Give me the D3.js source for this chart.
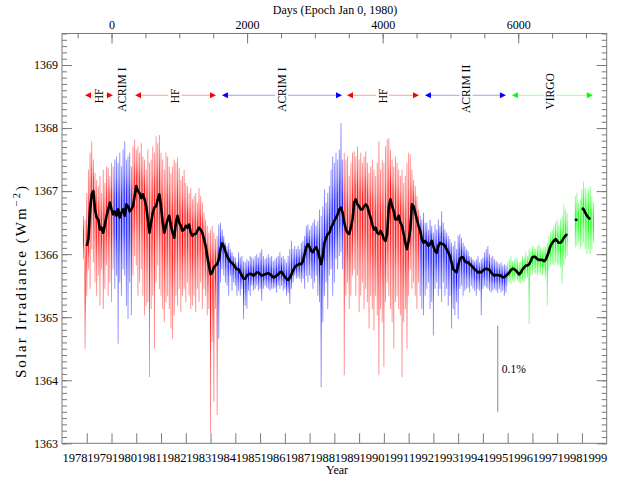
<!DOCTYPE html>
<html><head><meta charset="utf-8">
<script src="https://cdn.jsdelivr.net/npm/d3@7"></script>
<style>
body{margin:0;background:#fff}
svg{display:block}
text{font-family:"Liberation Serif","Times New Roman",serif;fill:#000}
</style>
</head><body>
<svg id="chart" width="626" height="484"></svg>
<script>
// ---------- DATA ----------
const sampleStep = 1/15;            // years between samples
const meanStart = 1979.0;           // first sample of the running mean
const meanValues = [
1366.13,1366.24,1366.71,1366.95,1367.00,1366.71,1366.58,1366.55,1366.39,1366.42,
1366.34,1366.47,1366.61,1366.71,1366.82,1366.71,1366.63,1366.68,1366.61,1366.71,
1366.58,1366.66,1366.71,1366.61,1366.79,1366.76,1366.68,1366.71,1366.76,1366.92,
1367.08,1367.00,1366.97,1366.89,1366.95,1366.87,1366.76,1366.55,1366.34,1366.50,
1366.66,1366.74,1366.76,1366.87,1366.95,1366.76,1366.50,1366.34,1366.45,1366.55,
1366.61,1366.45,1366.34,1366.26,1366.50,1366.61,1366.50,1366.45,1366.37,1366.39,
1366.45,1366.42,1366.47,1366.34,1366.29,1366.32,1366.32,1366.37,1366.42,1366.39,
1366.34,1366.24,1366.13,1365.97,1365.82,1365.68,1365.71,1365.79,1365.82,1365.84,
1365.92,1366.08,1366.17,1366.13,1366.04,1365.97,1365.92,1365.88,1365.86,1365.83,
1365.79,1365.76,1365.76,1365.71,1365.66,1365.61,1365.61,1365.66,1365.68,1365.69,
1365.68,1365.66,1365.68,1365.71,1365.71,1365.68,1365.66,1365.67,1365.68,1365.69,
1365.70,1365.68,1365.66,1365.63,1365.64,1365.66,1365.68,1365.71,1365.72,1365.68,
1365.64,1365.61,1365.59,1365.63,1365.68,1365.74,1365.79,1365.82,1365.83,1365.85,
1365.84,1365.89,1366.00,1366.11,1366.16,1366.11,1366.05,1366.03,1366.08,1366.11,
1366.05,1365.95,1365.84,1365.97,1366.18,1366.26,1366.32,1366.34,1366.42,1366.47,
1366.53,1366.58,1366.63,1366.71,1366.74,1366.66,1366.50,1366.39,1366.34,1366.32,
1366.42,1366.55,1366.82,1366.87,1366.79,1366.76,1366.71,1366.71,1366.76,1366.79,
1366.76,1366.66,1366.58,1366.47,1366.39,1366.42,1366.34,1366.32,1366.37,1366.32,
1366.24,1366.21,1366.32,1366.76,1366.87,1366.76,1366.68,1366.55,1366.55,1366.61,
1366.50,1366.45,1366.32,1366.18,1366.08,1366.21,1366.39,1366.79,1366.76,1366.66,
1366.55,1366.45,1366.37,1366.24,1366.18,1366.21,1366.18,1366.13,1366.16,1366.21,
1366.12,1366.05,1366.02,1366.13,1366.18,1366.16,1366.16,1366.13,1366.08,1366.03,
1365.97,1365.87,1365.76,1365.74,1365.71,1365.82,1365.92,1365.95,1365.95,1365.89,
1365.87,1365.87,1365.84,1365.82,1365.79,1365.76,1365.74,1365.71,1365.72,1365.71,
1365.74,1365.76,1365.77,1365.76,1365.75,1365.71,1365.68,1365.66,1365.67,1365.67,
1365.66,1365.66,1365.63,1365.64,1365.66,1365.68,1365.71,1365.75,1365.77,1365.76,
1365.74,1365.71,1365.68,1365.71,1365.76,1365.79,1365.82,1365.82,1365.84,1365.89,
1365.95,1365.96,1365.95,1365.92,1365.91,1365.91,1365.91,1365.89,1365.91,1365.97,
1366.05,1366.13,1366.18,1366.21,1366.24,1366.21,1366.18,1366.18,1366.21,1366.26,
1366.29,1366.32,null,null,null,null,1366.53,1366.56,null,null,
1366.73,1366.71,1366.66,1366.61,1366.58,1366.55
];
const noiseStart = 1978 + 13/15;    // first sample of the daily-data envelope
const noiseHigh = [
1366.61,1366.55,1366.97,1367.34,1367.61,1367.79,1367.50,1367.29,1367.18,1367.08,
1367.24,1366.97,1367.34,1367.13,1367.39,1367.37,1367.24,1367.45,1367.39,1367.50,
1367.55,1367.45,1367.61,1367.39,1367.66,1367.79,1367.50,1367.55,1367.61,1367.39,
1367.71,1367.82,1367.66,1367.71,1367.61,1367.76,1367.55,1367.50,1367.34,1367.66,
1367.45,1367.50,1367.71,1367.61,1367.87,1367.76,1367.89,1367.61,1367.50,1367.34,
1367.61,1367.55,1367.39,1367.29,1367.39,1367.50,1367.45,1367.53,1367.37,1367.18,
1367.24,1367.34,1367.13,1367.08,1366.97,1367.05,1366.87,1366.92,1366.97,1366.82,
1367.05,1366.92,1366.82,1366.66,1366.55,1366.45,1366.34,1366.39,1366.45,1366.34,
1366.24,1366.29,1366.47,1366.50,1366.39,1366.29,1366.18,1366.13,1366.18,1366.08,
1366.03,1365.97,1365.95,1365.87,1366.03,1365.95,1365.97,1365.89,1365.87,1365.92,
1365.89,1365.97,1365.95,1365.92,1365.97,1366.00,1365.95,1366.03,1366.08,1365.97,
1365.92,1365.95,1366.00,1365.95,1365.97,1365.89,1365.92,1365.95,1365.97,1366.03,
1365.95,1365.97,1365.92,1365.87,1365.97,1366.08,1366.21,1366.08,1366.13,1366.08,
1366.13,1366.08,1366.18,1366.21,1366.29,1366.45,1366.47,1366.39,1366.45,1366.50,
1366.55,1366.45,1366.53,1366.71,1366.61,1366.76,1367.03,1366.82,1366.97,1367.08,
1367.34,1367.55,1367.45,1367.61,1367.50,1367.66,1368.08,1367.50,1367.61,1367.50,
1367.55,1367.24,1367.45,1367.61,1367.63,1367.55,1367.71,1367.50,1367.61,1367.45,
1367.55,1367.63,1367.45,1367.29,1367.39,1367.50,1367.34,1367.24,1367.45,1367.79,
1367.34,1367.50,1367.45,1367.71,1367.82,1367.84,1367.66,1367.50,1367.39,1367.55,
1367.45,1367.34,1367.24,1367.34,1367.13,1367.24,1367.45,1367.61,1367.58,1367.34,
1367.18,1367.08,1366.92,1366.71,1366.61,1366.55,1366.66,1366.50,1366.50,1366.39,
1366.55,1366.45,1366.34,1366.47,1366.39,1366.55,1366.45,1366.68,1366.50,1366.39,
1366.34,1366.29,1366.24,1366.18,1366.13,1366.21,1366.08,1366.29,1366.32,1366.26,
1366.18,1366.13,1366.08,1366.05,1365.97,1365.95,1365.92,1365.89,1365.92,1365.97,
1365.87,1365.92,1365.95,1366.03,1366.08,1366.13,1366.00,1365.95,1365.97,1365.92,
1365.89,1365.87,1365.84,1365.87,1365.82,1365.84,1365.82,1365.87,1365.92,1365.97,
1365.89,1365.92,1365.95,1365.92,1365.87,1365.89,1365.97,1365.95,1366.03,1365.97,
1366.08,1366.05,1366.13,1366.11,1366.08,1366.13,1366.16,1366.11,1366.08,1366.13,
1366.11,1366.18,1366.29,1366.34,1366.39,1366.45,1366.50,1366.55,1366.47,1366.55,
1366.61,1366.79,1366.71,1366.66,null,null,null,null,1366.92,1366.97,
1366.82,1366.87,1367.03,1367.16,1367.05,1366.97,1367.03,1367.08,1366.92,1366.82
];
const noiseLow = [
1365.92,1364.50,1365.34,1365.76,1365.45,1366.08,1365.87,1365.55,1365.34,1365.66,
1365.18,1365.76,1365.13,1365.45,1365.82,1365.34,1365.55,1365.24,1365.76,1365.45,
1365.66,1364.58,1365.55,1365.34,1365.76,1365.66,1365.18,1364.97,1365.55,1365.03,
1365.66,1365.97,1365.82,1365.34,1365.55,1365.76,1365.34,1365.03,1365.18,1365.24,
1364.05,1365.13,1365.34,1364.50,1365.55,1365.82,1365.45,1365.34,1365.13,1364.92,
1365.24,1365.34,1365.13,1364.82,1364.66,1365.03,1365.34,1365.18,1365.45,1365.08,
1365.34,1365.45,1365.24,1365.55,1365.34,1365.13,1365.18,1365.34,1365.08,1365.45,
1365.24,1365.55,1365.13,1365.45,1365.34,1365.03,1365.13,1363.16,1364.61,1363.66,
1365.13,1363.45,1364.66,1365.55,1365.76,1365.66,1365.55,1365.50,1365.34,1365.66,
1365.42,1365.55,1365.50,1365.34,1365.42,1365.34,1365.45,1364.97,1365.18,1365.13,
1365.42,1365.34,1365.50,1365.42,1365.45,1365.50,1365.42,1365.45,1365.26,1365.45,
1365.50,1365.47,1365.45,1365.42,1365.45,1365.45,1365.47,1365.39,1365.50,1365.45,
1365.50,1365.42,1365.45,1365.34,1365.39,1365.21,1365.45,1365.55,1365.66,1365.61,
1365.63,1365.61,1365.55,1365.61,1365.45,1365.66,1365.55,1365.66,1365.61,1365.45,
1365.55,1365.66,1365.34,1365.24,1363.89,1364.92,1365.34,1365.55,1365.13,1365.66,
1365.76,1365.34,1365.55,1365.92,1365.76,1365.97,1366.03,1365.76,1364.08,1365.34,
1365.55,1365.13,1365.34,1365.66,1365.76,1365.34,1365.66,1365.08,1365.34,1365.55,
1365.13,1365.45,1365.24,1364.82,1365.34,1365.13,1364.79,1365.34,1365.03,1364.08,
1365.13,1364.92,1364.21,1365.24,1365.55,1365.34,1365.13,1364.92,1364.50,1365.24,
1365.34,1365.13,1365.03,1364.05,1364.92,1365.13,1364.50,1365.34,1365.76,1365.45,
1365.55,1365.34,1365.13,1365.55,1365.34,1365.13,1365.03,1365.34,1365.45,1365.55,
1365.13,1365.24,1364.71,1365.45,1365.55,1365.34,1365.45,1365.24,1365.55,1365.34,
1365.45,1365.18,1365.34,1364.82,1365.13,1365.03,1365.24,1364.97,1365.45,1365.50,
1365.34,1365.42,1365.45,1365.47,1365.39,1365.50,1365.45,1365.42,1365.34,1365.45,
1365.42,1365.03,1365.45,1365.50,1365.47,1365.45,1365.42,1365.39,1365.42,1365.45,
1365.42,1365.39,1365.45,1365.39,1365.42,1365.34,1365.39,1365.50,1365.55,1365.53,
1365.58,1365.55,1365.61,1365.58,1365.55,1365.53,1365.58,1365.55,1365.61,1365.63,
1364.89,1365.66,1365.68,1365.71,1365.68,1365.66,1365.71,1365.68,1365.66,1365.68,
1365.63,1365.18,1365.76,1365.82,1365.84,1365.82,1365.87,1365.82,1365.84,1365.79,
1365.53,1365.82,1365.92,1365.97,null,null,null,null,1366.11,1366.13,
1366.18,1366.08,1366.13,1366.18,1366.08,1366.00,1366.08,1366.00,1366.08,1366.18
];
// which instrument supplied each stretch of the record
const segInstrument = ["HF","ACRIM I","HF","ACRIM I","HF","ACRIM II","VIRGO"];
const segFrom = [1978.85, 1980.10, 1980.85, 1984.30, 1989.38, 1992.45, 1996.00];
const segTo   = [1980.10, 1980.85, 1984.30, 1989.38, 1992.45, 1996.00, 1999.60];
const instrumentColor = {"HF":"#ff0000","ACRIM I":"#0000ff","ACRIM II":"#0000ff","VIRGO":"#00ff00"};
const instrumentLight = {"HF":"#ffa0a0","ACRIM I":"#a0a0ff","ACRIM II":"#a0a0ff","VIRGO":"#a0ffa0"};
// instrument key across the top of the plot
const keyLabels = ["HF","ACRIM I","HF","ACRIM I","HF","ACRIM II","VIRGO"];
const keyFrom   = [1978.93, null, 1980.95, 1984.46, 1989.51, 1992.66, 1996.17];
const keyTo     = [1980.06, null, 1984.22, 1989.31, 1992.42, 1995.93, 1999.44];
const keyLabelAt= [1979.49, 1980.42, 1982.56, 1986.87, 1990.95, 1994.32, 1997.72];
const keyValue = 1368.52;
// axes
const yearTicks = d3.range(1979, 2000);
const yearLabels = d3.range(1978, 2000);
const dayMajorTicks = [0, 2000, 4000, 6000];
const dayMinorTicks = d3.range(-500, 7301, 500);
const irrMajorTicks = d3.range(1363, 1370, 1);
const irrMinorTicks = d3.range(13630, 13696, 1).map(v => v / 10);
// 0.1% scale bar
const scaleBarYear = 1995.6, scaleBarBase = 1363.5, scaleBarPercent = 0.1, referenceIrradiance = 1366;

// ---------- CHART ----------
const FONT = '"Liberation Serif","Times New Roman",serif';
const svg = d3.select("#chart");
const pL = 62, pR = 606.7, pT = 33.5, pB = 443.3;
const x = d3.scaleLinear().domain([1978, 2000]).range([pL, pR]);
const xDays = d3.scaleLinear().domain([(1978 - 1980) * 365.25, (2000 - 1980) * 365.25]).range([pL, pR]);
const y = d3.scaleLinear().domain([1363, 1369.5]).range([pB, pT]);
const axisColor = "#7a7a7a";

const defs = svg.append("defs");
defs.append("clipPath").attr("id","clip").append("rect")
  .attr("x", pL).attr("y", pT).attr("width", pR - pL).attr("height", pB - pT);
// fading strokes: dense near the running mean, lighter toward the extremes
Object.entries({red: "#ff0000", blue: "#0000ff", green: "#00ff00"}).forEach(([nm, c]) => {
  [["up", 1, 0], ["down", 0, 1]].forEach(([dir, ya, yb]) => {
    const gr = defs.append("linearGradient").attr("id", `g-${nm}-${dir}`)
      .attr("x1", 0).attr("x2", 0).attr("y1", ya).attr("y2", yb);
    gr.append("stop").attr("offset", 0).attr("stop-color", c).attr("stop-opacity", 1);
    gr.append("stop").attr("offset", 0.3).attr("stop-color", c).attr("stop-opacity", 0.9);
    gr.append("stop").attr("offset", 0.65).attr("stop-color", c).attr("stop-opacity", 0.55);
    gr.append("stop").attr("offset", 1).attr("stop-color", c).attr("stop-opacity", 0.4);
  });
});
const gradName = {"HF": "red", "ACRIM I": "blue", "ACRIM II": "blue", "VIRGO": "green"};

const plot = svg.append("g").attr("clip-path","url(#clip)");

// daily data envelope, coloured by instrument (one stroke per sample)
const meanAt = t => {
  const f = (t - meanStart) / sampleStep, i0 = Math.floor(f), i1 = i0 + 1;
  const a = meanValues[i0], b = meanValues[i1];
  if (a == null && b == null) return null;
  if (a == null) return b;
  if (b == null) return a;
  return a + (b - a) * (f - i0);
};
const samples = noiseHigh.map((h, j) => ({t: noiseStart + j * sampleStep, hi: h, lo: noiseLow[j]}))
  .filter(d => d.hi != null && d.lo != null)
  .map(d => { let m = meanAt(d.t); if (m == null || m > d.hi || m < d.lo) m = (d.hi + d.lo) / 2; return {...d, mid: m}; });
segInstrument.forEach((name, k) => {
  const seg = samples.filter(d => d.t >= segFrom[k] && d.t < segTo[k]);
  const g = plot.append("g");
  g.selectAll("rect.up").data(seg).join("rect").attr("class", "up")
    .attr("x", d => x(d.t) - 0.5).attr("width", 1.0)
    .attr("y", d => y(d.hi)).attr("height", d => Math.max(0.5, y(d.mid) - y(d.hi)))
    .attr("fill", `url(#g-${gradName[name]}-up)`);
  g.selectAll("rect.down").data(seg).join("rect").attr("class", "down")
    .attr("x", d => x(d.t) - 0.5).attr("width", 1.0)
    .attr("y", d => y(d.mid)).attr("height", d => Math.max(0.5, y(d.lo) - y(d.mid)))
    .attr("fill", `url(#g-${gradName[name]}-down)`);
});

// running mean
const meanPts = meanValues.map((v, i) => [meanStart + i * sampleStep, v]);
plot.append("path").datum(meanPts)
  .attr("d", d3.line().defined(d => d[1] != null).x(d => x(d[0])).y(d => y(d[1])))
  .attr("fill", "none").attr("stroke", "#000").attr("stroke-width", 2.6)
  .attr("stroke-linejoin", "round");

// frame
svg.append("rect").attr("x", pL).attr("y", pT).attr("width", pR - pL).attr("height", pB - pT)
  .attr("fill", "none").attr("stroke", axisColor).attr("stroke-width", 1);

function styleAxis(g) {
  g.attr("font-family", FONT);
  g.select(".domain").remove();
  g.selectAll(".tick line").attr("stroke", axisColor);
  g.selectAll("text").attr("fill", "#000").attr("font-family", FONT);
}
// bottom year axis
svg.append("g").attr("transform", `translate(0,${pB})`)
  .call(d3.axisBottom(x).tickValues(yearTicks).tickSize(-10).tickFormat(""))
  .call(styleAxis);
svg.append("g").attr("transform", `translate(0,${pB})`)
  .call(d3.axisBottom(x).tickValues(yearLabels.map(v => v + 0.5)).tickSize(0).tickPadding(9.5).tickFormat(d => Math.floor(d)))
  .call(styleAxis).call(g => g.selectAll("text").attr("font-size", 12.5));
// top day axis
svg.append("g").attr("transform", `translate(0,${pT})`)
  .call(d3.axisTop(xDays).tickValues(dayMinorTicks).tickSize(-5).tickFormat(""))
  .call(styleAxis);
svg.append("g").attr("transform", `translate(0,${pT})`)
  .call(d3.axisTop(xDays).tickValues(dayMajorTicks).tickSize(-10).tickPadding(5).tickFormat(d3.format("d")))
  .call(styleAxis).call(g => g.selectAll("text").attr("font-size", 12));
// left / right irradiance axes
svg.append("g").attr("transform", `translate(${pL},0)`)
  .call(d3.axisLeft(y).tickValues(irrMinorTicks).tickSize(-5).tickFormat(""))
  .call(styleAxis);
svg.append("g").attr("transform", `translate(${pL},0)`)
  .call(d3.axisLeft(y).tickValues(irrMajorTicks).tickSize(-10).tickPadding(4).tickFormat(d3.format("d")))
  .call(styleAxis).call(g => g.selectAll("text").attr("font-size", 12));
svg.append("g").attr("transform", `translate(${pR},0)`)
  .call(d3.axisRight(y).tickValues(irrMinorTicks).tickSize(-5).tickFormat(""))
  .call(styleAxis);
svg.append("g").attr("transform", `translate(${pR},0)`)
  .call(d3.axisRight(y).tickValues(irrMajorTicks).tickSize(-10).tickFormat(""))
  .call(styleAxis);

// titles
svg.append("text").attr("x", 335).attr("y", 14).attr("text-anchor", "middle")
  .attr("font-family", FONT).attr("font-size", 12).text("Days (Epoch Jan 0, 1980)");
svg.append("text").attr("x", 337).attr("y", 474).attr("text-anchor", "middle")
  .attr("font-family", FONT).attr("font-size", 12).text("Year");
const yt = svg.append("text").attr("transform", "translate(26,281) rotate(-90)")
  .attr("text-anchor", "middle").attr("font-family", FONT).attr("font-size", 15);
yt.append("tspan").text("Solar Irradiance (Wm");
yt.append("tspan").attr("dy", -6).attr("font-size", 10.5).text("−2");
yt.append("tspan").attr("dy", 6).text(")");
{ // stretch to the reference title's length
  const natural = yt.node().getComputedTextLength();
  const chars = yt.text().length;
  yt.attr("letter-spacing", ((192 - natural) / (chars - 1)).toFixed(2));
}

// instrument key
const ky = y(keyValue);
keyLabels.forEach((lab, k) => {
  const col = instrumentColor[lab], light = instrumentLight[lab];
  if (keyFrom[k] != null) {
    const x0 = x(keyFrom[k]), x1 = x(keyTo[k]);
    svg.append("line").attr("x1", x0 + 4).attr("x2", x1 - 4).attr("y1", ky).attr("y2", ky)
      .attr("stroke", light).attr("stroke-width", 1);
    svg.append("path").attr("d", `M${x0},${ky}L${x0 + 6},${ky - 3}L${x0 + 6},${ky + 3}Z`).attr("fill", col);
    svg.append("path").attr("d", `M${x1},${ky}L${x1 - 6},${ky - 3}L${x1 - 6},${ky + 3}Z`).attr("fill", col);
    svg.append("rect").attr("x", x(keyLabelAt[k]) - 6.5).attr("y", ky - 2).attr("width", 13).attr("height", 4).attr("fill", "#fff");
  }
  const t = svg.append("text").attr("font-family", FONT).attr("font-size", 11.5).attr("fill", col)
    .attr("text-anchor", "middle").attr("dominant-baseline", "central").text(lab);
  const L = t.node().getComputedTextLength();
  const cy = ky + 3.7 - 0.21 * L;
  t.attr("transform", `translate(${x(keyLabelAt[k])},${cy}) rotate(-90)`);
});

// 0.1% bar
const barTop = scaleBarBase + referenceIrradiance * scaleBarPercent / 100;
svg.append("line").attr("x1", x(scaleBarYear)).attr("x2", x(scaleBarYear))
  .attr("y1", y(scaleBarBase)).attr("y2", y(barTop)).attr("stroke", "#888").attr("stroke-width", 1);
svg.append("text").attr("x", x(scaleBarYear) + 4).attr("y", y((scaleBarBase + barTop) / 2))
  .attr("dominant-baseline", "central").attr("font-family", FONT).attr("font-size", 11.5).text(scaleBarPercent + "%");
</script>
</body></html>
